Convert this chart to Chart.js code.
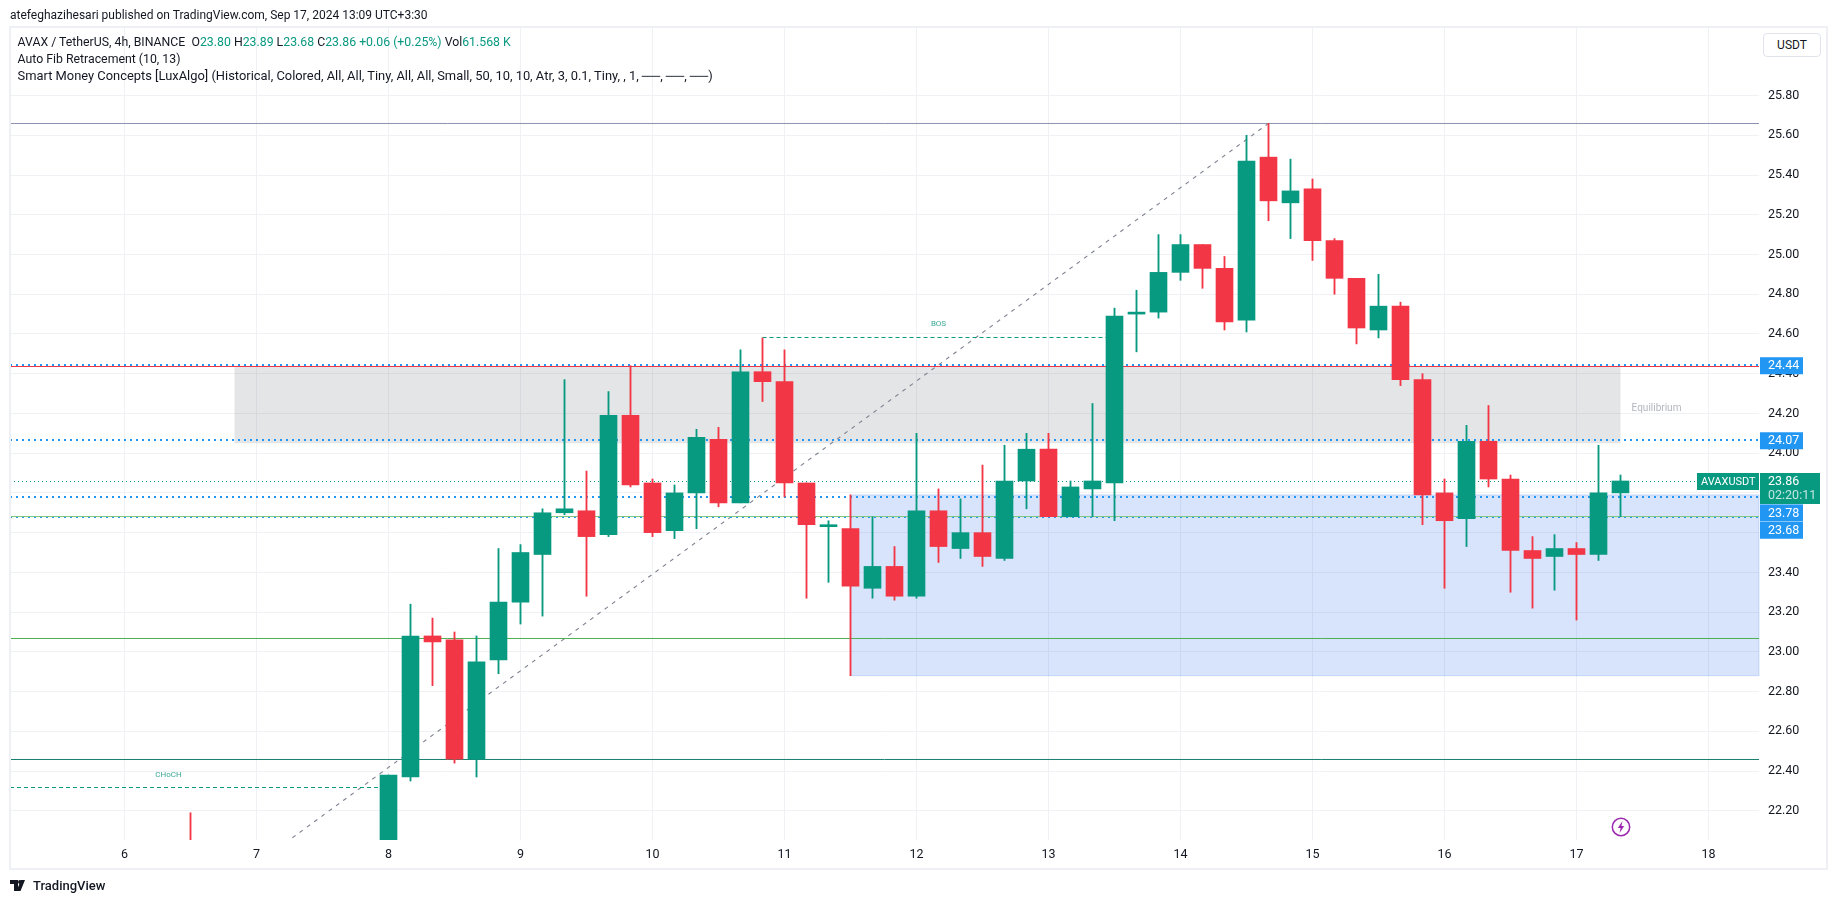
<!DOCTYPE html>
<html>
<head>
<meta charset="utf-8">
<title>AVAXUSDT</title>
<script src="https://cdn.jsdelivr.net/npm/chart.js@4"></script>
<style>
  html, body { margin: 0; padding: 0; background: #fff; overflow: hidden; }
  body { width: 1835px; height: 903px; position: relative; font-family: Roboto, sans-serif; color: #131722; }
  canvas { position: absolute; left: 0; top: 0; }
  .txt { position: absolute; white-space: pre; font-size: 12.3px; line-height: 16px; }
  .up { color: #089981; }
  #frame { position: absolute; left: 9px; top: 26px; width: 1815px; height: 840px; border: 2px solid #eef0f5; pointer-events: none; }
  #unit { position: absolute; left: 1763px; top: 33px; width: 56px; height: 22px; border: 1px solid #e0e3eb; border-radius: 4px; text-align: center; font-size: 12px; line-height: 22px; background: #fff; }
</style>
</head>
<body>
<canvas id="chart" width="1835" height="903"></canvas>
<div id="frame"></div>
<div class="txt" style="left:10px;top:7px;font-size:12px;">atefeghazihesari published on TradingView.com, Sep 17, 2024 13:09 UTC+3:30</div>
<div class="txt" style="left:17.5px;top:34px;">AVAX / TetherUS, 4h, BINANCE  O<span class="up">23.80</span> H<span class="up">23.89</span> L<span class="up">23.68</span> C<span class="up">23.86</span> <span class="up">+0.06 (+0.25%)</span> Vol<span class="up">61.568 K</span></div>
<div class="txt" style="left:17.5px;top:51px;">Auto Fib Retracement (10, 13)</div>
<div class="txt" style="left:17.5px;top:68px;font-size:12.9px;">Smart Money Concepts [LuxAlgo] (Historical, Colored, All, All, Tiny, All, All, Small, 50, 10, 10, Atr, 3, 0.1, Tiny, , 1, ──, ──, ──)</div>
<div id="unit">USDT</div>
<svg style="position:absolute;left:1611px;top:817px;" width="20" height="20" viewBox="0 0 20 20">
  <circle cx="10" cy="10" r="8.7" fill="#fff" stroke="#9c27b0" stroke-width="1.5"/>
  <path d="M11.5 4 L6.8 11 H9.6 L8.5 16 L13.2 9 H10.4 Z" fill="#9c27b0"/>
</svg>
<svg style="position:absolute;left:10px;top:880px;" width="20" height="12" viewBox="0 0 20 12">
  <path d="M0 0 H8 V11 H4 V4 H0 Z M15 0 L10.5 11 H6.5 L11 0 Z" fill="#131722"/>
  <circle cx="10" cy="2" r="2" fill="#131722"/>
</svg>
<div class="txt" style="left:33px;top:878px;font-size:13px;font-weight:500;">TradingView</div>

<script>
// 4h slots counted from the "6" tick (6 slots a day)
const candleSlots = [3, 12, 13, 14, 15, 16, 17, 18, 19, 20, 21, 22, 23, 24, 25, 26, 27, 28, 29, 30,
  31, 32, 33, 34, 35, 36, 37, 38, 39, 40, 41, 42, 43, 44, 45, 46, 47, 48, 49, 50,
  51, 52, 53, 54, 55, 56, 57, 58, 59, 60, 61, 62, 63, 64, 65, 66, 67, 68];
const opens = [21.95, 21.90, 22.37, 23.08, 23.06, 22.46, 22.96, 23.25, 23.49, 23.70, 23.71, 23.59, 24.19, 23.85, 23.61, 23.80, 24.07, 23.75, 24.41, 24.36,
  23.85, 23.63, 23.62, 23.32, 23.43, 23.28, 23.71, 23.52, 23.60, 23.47, 23.86, 24.02, 23.68, 23.82, 23.85, 24.70, 24.71, 24.91, 25.05, 24.93,
  24.67, 25.49, 25.26, 25.33, 25.07, 24.88, 24.62, 24.74, 24.37, 23.80, 23.67, 24.06, 23.87, 23.51, 23.48, 23.52, 23.49, 23.80];
const closes = [21.90, 22.38, 23.08, 23.05, 22.46, 22.95, 23.25, 23.50, 23.70, 23.72, 23.58, 24.19, 23.84, 23.60, 23.80, 24.08, 23.75, 24.41, 24.36, 23.85,
  23.64, 23.64, 23.33, 23.43, 23.28, 23.71, 23.53, 23.60, 23.48, 23.86, 24.02, 23.68, 23.83, 23.86, 24.69, 24.71, 24.91, 25.05, 24.93, 24.66,
  25.47, 25.27, 25.32, 25.07, 24.88, 24.63, 24.74, 24.37, 23.79, 23.66, 24.06, 23.87, 23.51, 23.47, 23.52, 23.49, 23.80, 23.86];
const highs = [22.19, 22.38, 23.24, 23.17, 23.10, 23.08, 23.52, 23.54, 23.72, 24.37, 23.91, 24.31, 24.44, 23.87, 23.84, 24.12, 24.13, 24.52, 24.58, 24.52,
  23.85, 23.66, 23.79, 23.68, 23.53, 24.10, 23.82, 23.77, 23.94, 24.04, 24.10, 24.10, 23.86, 24.25, 24.73, 24.82, 25.10, 25.10, 25.05, 24.99,
  25.60, 25.66, 25.48, 25.38, 25.08, 24.88, 24.90, 24.76, 24.40, 23.87, 24.14, 24.24, 23.89, 23.58, 23.59, 23.55, 24.04, 23.89];
const lows = [21.80, 21.80, 22.35, 22.83, 22.44, 22.37, 22.89, 23.14, 23.18, 23.69, 23.28, 23.58, 23.83, 23.58, 23.57, 23.62, 23.73, 23.75, 24.26, 23.78,
  23.27, 23.35, 22.88, 23.27, 23.26, 23.27, 23.45, 23.47, 23.43, 23.46, 23.72, 23.68, 23.68, 23.68, 23.66, 24.51, 24.68, 24.87, 24.83, 24.62,
  24.61, 25.17, 25.08, 24.97, 24.80, 24.55, 24.58, 24.34, 23.64, 23.32, 23.53, 23.83, 23.30, 23.22, 23.31, 23.16, 23.46, 23.68];

const dayTickSlots = [0, 6, 12, 18, 24, 30, 36, 42, 48, 54, 60, 66, 72];
const dayLabels = ['6', '7', '8', '9', '10', '11', '12', '13', '14', '15', '16', '17', '18'];
const priceTicks = [22.2, 22.4, 22.6, 22.8, 23.0, 23.2, 23.4, 23.6, 23.8, 24.0, 24.2, 24.4, 24.6, 24.8, 25.0, 25.2, 25.4, 25.6, 25.8];

const slotMin = -5.2045, slotMax = 74.2955;
const priceMin = 22.053, priceMax = 26.145;

// levels and drawings, in slots and prices
const fibTop = 25.6593, fibMid = 24.4362, fibLight = 23.6812, fibGreen = 23.0672, fibTeal = 22.4582;
const blueLevels = [24.4438, 24.0663, 23.7794, 23.6787];
const lastClose = 23.8574;
const fibLineSlots = [4, 52];
const fibLinePrices = [21.77, 25.66];
const chochSlots = [slotMin, 12];
const chochPrice = 22.3172;
const bosSlots = [29, 45];
const bosPrice = 24.5822;
const equilibriumZone = [5, 68, 24.05, 24.44];
const demandZone = [33, slotMax, 22.88, 23.79];

const green = '#089981', red = '#f23645';
const candleColors = opens.map((o, i) => closes[i] >= o ? green : red);

function hLine(price, color, width, dash, order, from, to) {
  return {
    type: 'line',
    data: [{ x: from === undefined ? slotMin : from, y: price }, { x: to === undefined ? slotMax : to, y: price }],
    borderColor: color, borderWidth: width, borderDash: dash || [],
    pointRadius: 0, order: order
  };
}

const zonesAndTags = {
  id: 'zonesAndTags',
  beforeDatasetsDraw(chart) {
    const ctx = chart.ctx, x = chart.scales.x, y = chart.scales.y;
    const zone = (z, fill, line) => {
      const l = x.getPixelForValue(z[0]), r = x.getPixelForValue(z[1]);
      const t = y.getPixelForValue(z[3]), b = y.getPixelForValue(z[2]);
      ctx.fillStyle = fill;
      ctx.fillRect(l, t, r - l, b - t);
      if (line) {
        ctx.strokeStyle = line;
        ctx.lineWidth = 1;
        ctx.strokeRect(l, t, r - l, b - t);
      }
    };
    ctx.save();
    zone(equilibriumZone, 'rgba(120,123,134,0.2)');
    zone(demandZone, 'rgba(47,111,240,0.19)', 'rgba(47,111,240,0.2)');
    ctx.restore();
  },
  afterDatasetsDraw(chart) {
    const ctx = chart.ctx, x = chart.scales.x, y = chart.scales.y;
    ctx.save();
    ctx.textBaseline = 'middle';
    ctx.textAlign = 'center';
    ctx.font = '8px Roboto';
    ctx.fillStyle = '#3aa896';
    ctx.fillText('BOS', x.getPixelForValue(37), y.getPixelForValue(24.65));
    ctx.fillText('CHoCH', x.getPixelForValue(2), y.getPixelForValue(22.38));
    ctx.font = '10px Roboto';
    ctx.fillStyle = '#b2b5be';
    ctx.fillText('Equilibrium', x.getPixelForValue(68) + 36, y.getPixelForValue(24.225));
    ctx.restore();
  },
  afterDraw(chart) {
    const ctx = chart.ctx, y = chart.scales.y;
    const tag = (text, price, shift) => {
      const c = y.getPixelForValue(price) + shift;
      ctx.fillStyle = '#2196f3';
      ctx.fillRect(1760, c - 8.5, 43, 17);
      ctx.fillStyle = '#fff';
      ctx.fillText(text, 1768, c + 0.5);
    };
    ctx.save();
    ctx.font = '12.5px Roboto';
    ctx.textAlign = 'left';
    ctx.textBaseline = 'middle';
    tag('24.44', 24.44, 0);
    tag('24.07', 24.07, 1.5);
    tag('23.68', 23.68, 13.5);
    tag('23.78', 23.78, 16);

    const c = y.getPixelForValue(lastClose);
    ctx.fillStyle = green;
    ctx.fillRect(1760, c - 8.5, 60, 31);
    ctx.fillRect(1697, c - 8.5, 62, 17);
    ctx.fillStyle = '#fff';
    ctx.fillText('23.86', 1768, c + 0.5);
    ctx.fillStyle = 'rgba(255,255,255,0.75)';
    ctx.fillText('02:20:11', 1768, c + 14.5);
    ctx.fillStyle = '#fff';
    ctx.font = '11px Roboto';
    ctx.fillText('AVAXUSDT', 1701, c + 0.5);
    ctx.restore();
  }
};

Chart.defaults.font.family = 'Roboto, sans-serif';

new Chart(document.getElementById('chart'), {
  type: 'bar',
  plugins: [zonesAndTags],
  data: {
    datasets: [
      {
        data: candleSlots.map((s, i) => ({ x: s, y: [opens[i], closes[i]] })),
        backgroundColor: candleColors, barThickness: 17, grouped: false, order: 0
      },
      {
        data: candleSlots.map((s, i) => ({ x: s, y: [lows[i], highs[i]] })),
        backgroundColor: candleColors, barThickness: 1.2, grouped: false, order: 1
      },
      ...blueLevels.map(p => hLine(p, '#2196f3', 2, [2, 4], 4)),
      hLine(fibTop, '#8f92b0', 1, null, 5),
      hLine(fibMid, red, 1, null, 5),
      hLine(fibLight, '#81c784', 1, null, 3),
      hLine(fibGreen, '#4caf50', 1, null, 5),
      hLine(fibTeal, '#177f6e', 1, null, 5),
      hLine(lastClose, green, 1, [1, 3], 5),
      hLine(chochPrice, green, 1, [4, 3], 5, chochSlots[0], chochSlots[1]),
      hLine(bosPrice, green, 1, [4, 3], 5, bosSlots[0], bosSlots[1]),
      {
        type: 'line',
        data: fibLineSlots.map((s, i) => ({ x: s, y: fibLinePrices[i] })),
        borderColor: '#7f8290', borderWidth: 1.1, borderDash: [4, 5], pointRadius: 0, order: 6
      }
    ]
  },
  options: {
    responsive: false,
    animation: false,
    devicePixelRatio: 1,
    layout: { padding: { left: 10, top: 27, right: 0, bottom: 0 } },
    plugins: { legend: { display: false }, tooltip: { enabled: false } },
    scales: {
      x: {
        type: 'linear',
        offset: false,
        min: slotMin,
        max: slotMax,
        afterFit(s) { s.height = 63; },
        afterBuildTicks(s) { s.ticks = dayTickSlots.map(v => ({ value: v })); },
        grid: { color: '#f0f1f4', offset: false, drawTicks: false },
        border: { display: false },
        ticks: {
          autoSkip: false, maxRotation: 0, padding: 7, color: '#131722', font: { size: 12.5 },
          callback: v => dayLabels[dayTickSlots.indexOf(v)]
        }
      },
      y: {
        position: 'right',
        min: priceMin,
        max: priceMax,
        afterFit(s) { s.width = 76; },
        afterBuildTicks(s) { s.ticks = priceTicks.map(v => ({ value: v })); },
        grid: { color: '#f0f1f4', drawTicks: false },
        border: { display: false },
        ticks: {
          autoSkip: false, padding: 9, color: '#131722', font: { size: 12.5 },
          callback: v => v.toFixed(2)
        }
      }
    }
  }
});
</script>
</body>
</html>
